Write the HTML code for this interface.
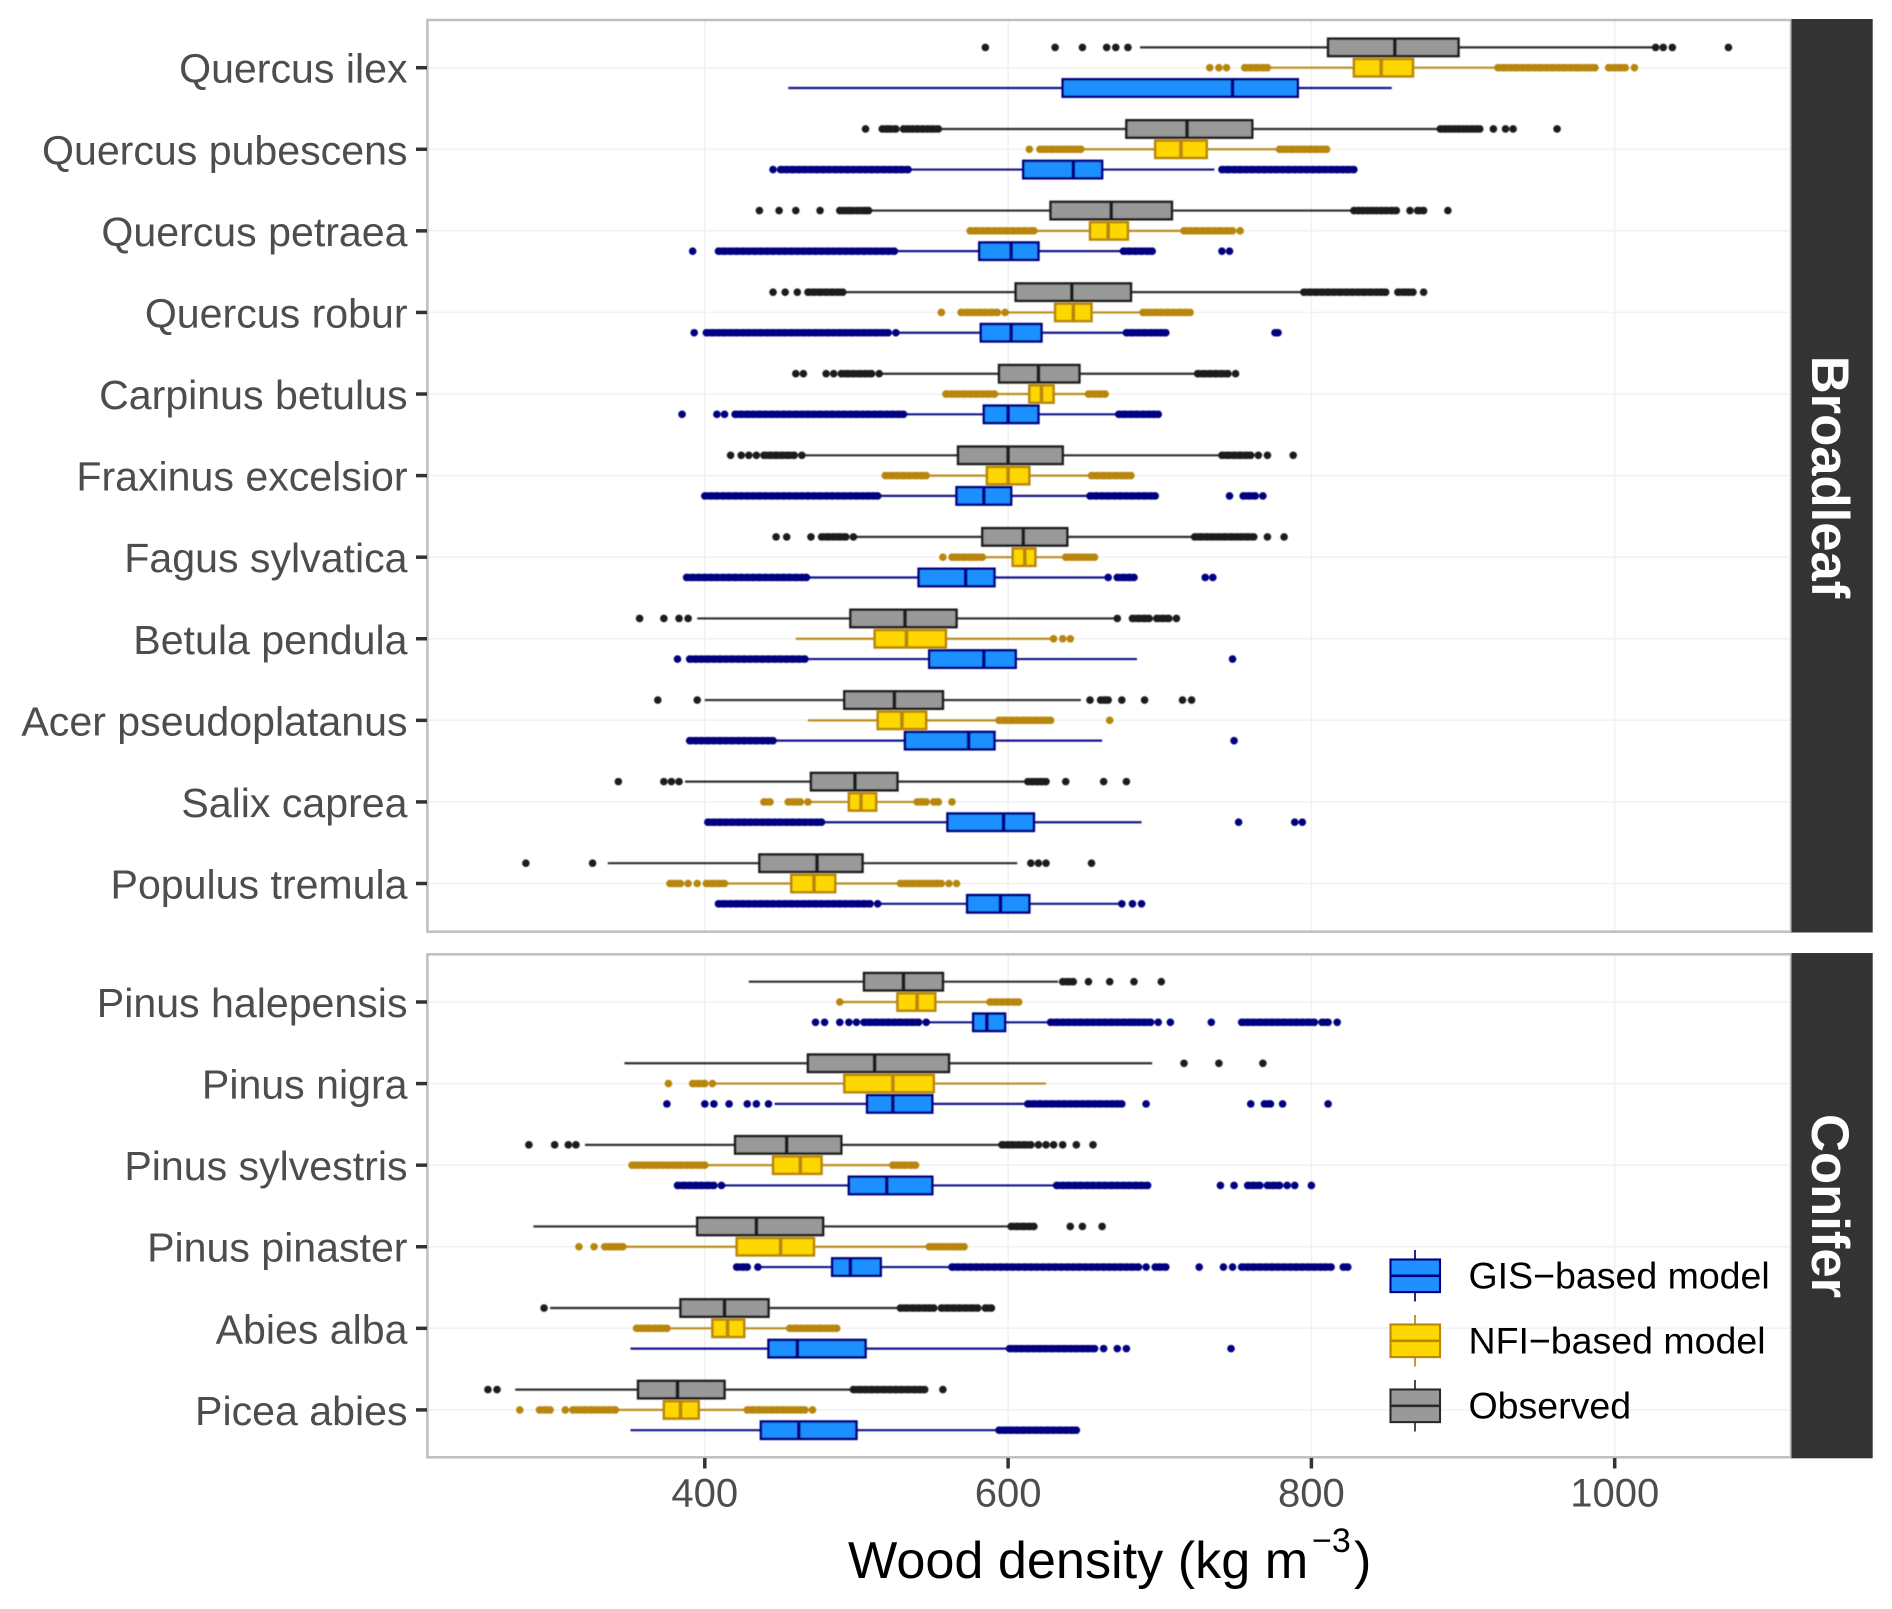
<!DOCTYPE html>
<html lang="en">
<head>
<meta charset="utf-8">
<title>Wood density boxplots</title>
<style>
html,body{margin:0;padding:0;background:#fff;}
svg{display:block;font-family:"Liberation Sans",Arial,sans-serif;}
</style>
</head>
<body>
<svg id="chart" xmlns="http://www.w3.org/2000/svg" width="1892" height="1609" viewBox="0 0 1892 1609">
  <defs>
    <filter id="soften" x="-2%" y="-2%" width="104%" height="104%"><feGaussianBlur stdDeviation="0.45"/></filter>
  </defs>
  <rect x="0" y="0" width="1892" height="1609" fill="#ffffff"/>
  <g id="grid"></g>
  <g id="marks" filter="url(#soften)"></g>
  <rect x="427.4" y="20" width="1363.6" height="911.7" fill="none" stroke="#bebebe" stroke-width="2.5"/>
  <rect x="427.4" y="954.3" width="1363.6" height="503" fill="none" stroke="#bebebe" stroke-width="2.5"/>
  <rect x="1791.5" y="19" width="81.2" height="913.5" fill="#333333"/>
  <rect x="1791.5" y="953" width="81.2" height="505.3" fill="#333333"/>
  <text transform="translate(1812,477) rotate(90)" text-anchor="middle" font-size="52.6" font-weight="bold" fill="#ffffff">Broadleaf</text>
  <text transform="translate(1812,1206) rotate(90)" text-anchor="middle" font-size="52.6" font-weight="bold" fill="#ffffff">Conifer</text>
  <g id="axes"></g>
  <text font-size="52.2" fill="#000000" x="848" y="1578">Wood density (kg m<tspan x="1312" y="1552" font-size="34">−3</tspan><tspan x="1354" y="1578">)</tspan></text>
  <g id="legend"></g>
</svg>
<script>
const species = ["Quercus ilex","Quercus pubescens","Quercus petraea","Quercus robur","Carpinus betulus","Fraxinus excelsior","Fagus sylvatica","Betula pendula","Acer pseudoplatanus","Salix caprea","Populus tremula","Pinus halepensis","Pinus nigra","Pinus sylvestris","Pinus pinaster","Abies alba","Picea abies"];
const speciesPanel = [0,0,0,0,0,0,0,0,0,0,0,1,1,1,1,1,1];
const xTickValues = [400,600,800,1000];
const xTickLabels = ["400","600","800","1000"];
const legendLabels = ["GIS−based model","NFI−based model","Observed"];

// each row: lower whisker, Q1, median, Q3, upper whisker
const obsStats = [[687,811,855,897,1025],[556,678,718,761,885],[509,628,668,708,828],[492,605,642,681,795],[515,594,620,647,725],[465,567,600,636,739],[499,583,610,639,723],[395,496,532,566,672],[400,492,525,557,648],[387,470,499,527,613],[336,436,474,504,606],[429,505,531,557,633],[347,468,512,561,695],[321,420,454,490,594],[287,395,434,478,602],[298,384,413,442,529],[275,356,382,413,498]];
const nfiStats = [[771,828,846,867,923],[649,697,714,731,779],[617,654,666,679,716],[598,631,643,655,689],[591,614,622,630,653],[546,586,600,614,655],[583,603,611,618,638],[460,512,533,559,628],[468,514,530,546,594],[468,495,503,513,540],[413,457,472,486,529],[491,527,540,552,588],[405,492,524,551,625],[400,445,463,477,524],[346,421,450,472,548],[375,405,415,426,456],[341,373,384,396,428]];
const gisStats = [[455,636,748,791,853],[535,610,643,662,736],[525,581,602,620,676],[526,582,602,622,678],[531,584,600,620,673],[514,566,584,602,654],[467,541,572,591,666],[466,548,584,605,685],[445,532,574,591,662],[477,560,597,617,688],[514,573,595,614,674],[547,577,586,598,628],[446,507,524,550,613],[412,495,520,550,632],[437,484,496,516,563],[351,442,461,506,601],[351,437,462,500,594]];

const obsOutliers = [
[585,631,649,665,671,679,1027,1032,1038,1075],
[506,517,520,522,526,531,534,537,540,544,547,550,554,885,888,891,894,897,900,903,906,909,911,920,928,933,962],
[436,449,460,476,489,492,495,497,501,504,506,508,828,831,834,837,840,843,846,849,853,856,865,870,874,890],
[445,453,461,468,472,476,480,484,488,491,795,799,803,807,811,815,819,823,827,831,835,839,843,846,849,857,861,864,867,874],
[460,465,480,485,490,494,498,502,506,510,515,725,729,733,737,741,745,750],
[417,424,429,434,439,443,447,451,455,459,464,741,745,749,753,757,760,765,771,788],
[447,454,470,477,481,485,489,493,498,723,727,731,735,739,743,747,751,754,758,762,771,782],
[357,373,383,389,672,682,686,690,693,698,702,706,711],
[369,395,654,661,664,666,675,690,715,721],
[343,373,378,383,613,616,619,622,625,638,663,678],
[282,326,615,620,625,655],
[636,640,643,653,667,683,701],
[716,739,768],
[284,301,310,315,596,600,603,607,611,615,620,625,630,636,645,656],
[602,606,610,614,617,641,649,662],
[294,529,533,537,541,545,548,551,556,560,564,568,572,576,580,585,589],
[257,263,498,502,506,510,514,518,522,526,530,534,538,542,545,557]
];
const nfiOutliers = [
[733,739,744,756,760,764,768,771,923,927,931,935,939,943,947,951,955,959,963,967,971,975,977,981,984,987,996,1000,1004,1007,1013],
[614,621,625,629,633,637,641,645,648,779,783,787,791,795,799,803,807,810],
[575,579,583,587,591,595,599,603,607,611,615,617,716,720,724,728,732,736,740,744,748,753],
[556,569,573,577,581,585,589,593,598,689,693,697,701,705,709,713,717,720],
[559,563,567,571,575,579,583,587,591,653,657,661,664],
[519,523,527,531,535,539,543,546,655,659,663,667,671,675,678,681],
[557,563,567,571,575,579,583,638,642,646,650,653,657],
[630,636,641],
[594,598,602,606,610,614,618,622,625,628,667],
[439,443,455,459,463,468,540,543,546,551,554,563],
[377,381,384,389,395,401,405,409,413,529,533,537,541,545,549,553,556,561,566],
[489,588,592,596,600,604,607],
[376,392,396,400,405],
[352,356,360,364,368,372,376,380,384,388,392,396,400,524,528,532,536,539],
[317,327,334,337,340,343,346,548,552,556,560,564,568,571],
[355,359,363,367,371,375,456,460,464,468,472,476,480,484,487],
[278,291,295,298,308,313,317,321,325,329,333,337,341,428,432,436,440,444,448,452,456,460,463,466,471]
];
const gisOutliers = [
[],
[445,450,454,458,462,466,470,474,478,482,486,490,494,498,502,506,510,514,518,522,526,530,534,741,745,749,753,757,761,765,769,773,777,781,785,789,793,797,801,805,809,813,817,821,824,828],
[392,409,413,417,421,425,429,433,437,441,445,449,453,457,461,465,469,473,477,481,485,489,493,497,501,505,509,513,517,521,525,676,680,684,688,692,695,741,746],
[393,401,405,409,413,417,421,425,429,433,437,441,445,449,453,457,461,465,469,473,477,481,485,489,493,497,501,505,509,513,517,521,526,678,682,686,690,694,698,701,704,776,778],
[385,408,413,420,424,428,432,436,440,444,448,452,456,460,464,468,472,476,480,484,488,492,496,500,504,508,512,516,520,524,528,531,673,677,681,685,689,693,696,699],
[400,404,408,412,416,420,424,428,432,436,440,444,448,452,456,460,464,468,472,476,480,484,488,492,496,500,504,508,511,514,654,658,662,666,670,674,678,682,686,690,694,697,746,755,759,763,768],
[388,392,396,400,404,408,412,416,420,424,428,432,436,440,444,448,452,456,460,464,467,666,672,676,680,683,730,735],
[382,390,394,398,402,406,410,414,418,422,426,430,434,438,442,446,450,454,458,462,466,748],
[390,394,398,402,406,410,414,418,422,426,430,434,438,442,445,749],
[402,406,410,414,418,422,426,430,434,438,442,446,450,454,458,462,466,470,474,477,752,789,794],
[409,413,417,421,425,429,433,437,441,445,449,453,457,461,465,469,473,477,481,485,489,493,497,501,505,509,514,675,682,688],
[473,479,489,495,500,505,509,513,517,521,525,529,533,537,541,546,628,632,636,640,644,648,652,656,660,664,668,672,676,680,683,686,690,694,699,707,734,754,758,762,766,770,774,778,782,786,790,794,798,802,807,811,817],
[375,400,406,416,428,434,442,613,617,621,625,629,633,637,641,645,649,653,657,661,665,669,672,675,691,760,769,773,781,811],
[382,386,390,394,398,402,406,411,632,636,640,644,648,652,656,660,664,668,672,676,680,684,688,692,740,749,758,762,766,771,775,779,784,789,800],
[421,425,428,435,563,567,571,575,579,583,587,591,595,599,603,607,611,615,619,623,627,631,635,639,643,647,651,655,659,663,667,670,674,678,682,686,691,697,700,704,726,742,748,754,758,762,766,770,774,778,782,786,790,794,798,802,806,809,813,821,824],
[601,605,609,613,617,621,625,629,633,637,641,645,649,653,657,663,672,678,747],
[594,598,602,606,610,614,618,622,626,630,634,638,642,645]
];

const SVG_NS = "http://www.w3.org/2000/svg";
const xScale = v => 704.8 + (v - 400) * 1.5165;
const panelFirstY = [67.7, 1002];
const bandStep = 81.58;
const dodge = 20.3;
const boxH = 17.4;
const overplotGap = 4.5;
function yScale(i) {
  const p = speciesPanel[i];
  const k = speciesPanel.slice(0, i).filter(q => q === p).length;
  return panelFirstY[p] + k * bandStep;
}
function make(tag, attrs, parent) {
  const el = document.createElementNS(SVG_NS, tag);
  for (const k in attrs) el.setAttribute(k, attrs[k]);
  parent.appendChild(el);
  return el;
}
const gridG = document.getElementById("grid");
const marksG = document.getElementById("marks");
const axesG = document.getElementById("axes");
const legendG = document.getElementById("legend");

// vertical gridlines, x ticks and labels
xTickValues.forEach((v, i) => {
  [[20, 931.7], [954.3, 1457.3]].forEach(range => {
    const gl = make("line", {x1: xScale(v), x2: xScale(v), y1: range[0], y2: range[1], stroke: "#f2f2f2", "stroke-width": 1.6}, gridG);
    
    
  });
  const tick = make("line", {x1: xScale(v), x2: xScale(v), y1: 1458, y2: 1468.5, stroke: "#333333", "stroke-width": 3.5}, axesG);
  
  
  const lab = make("text", {x: xScale(v), y: 1506.7, "text-anchor": "middle", "font-size": 40, fill: "#4d4d4d"}, axesG);
  lab.textContent = xTickLabels[i];
  
  
});

// species rows
species.forEach((name, i) => {
  const y = yScale(i);
  const gl = make("line", {x1: 427.4, x2: 1791, y1: y, y2: y, stroke: "#f2f2f2", "stroke-width": 1.6}, gridG);
  
  
  const tick = make("line", {x1: 416, x2: 427, y1: y, y2: y, stroke: "#333333", "stroke-width": 3.5}, axesG);
  
  
  const lab = make("text", {x: 407.5, y: y + 15, "text-anchor": "end", "font-size": 41.1, fill: "#4d4d4d"}, axesG);
  lab.textContent = name;
  
  
});

function drawSeries(stats, outliers, offset, fill, stroke, seriesName) {
  stats.forEach((row, i) => {
    const y = yScale(i) + offset;
    const g = make("g", {}, marksG);
    
    
    const sorted = outliers[i].slice().sort((a, b) => a - b);
    sorted.forEach((v, k) => {
      const c = make("circle", {cx: xScale(v), cy: y, r: 3.8, fill: stroke}, g);
      
      
      // overplotted neighbours merge into a solid run, as they do in the source plot
      if (k > 0 && v - sorted[k - 1] <= overplotGap) {
        const run = make("line", {x1: xScale(sorted[k - 1]), x2: xScale(v), y1: y, y2: y, stroke: stroke, "stroke-width": 7.2}, g);
        
        
      }
    });
    const w = make("line", {x1: xScale(row[0]), x2: xScale(row[4]), y1: y, y2: y, stroke: stroke, "stroke-width": 2.2, "stroke-opacity": 0.92}, g);
    
    
    const b = make("rect", {x: xScale(row[1]), y: y - boxH / 2, width: xScale(row[3]) - xScale(row[1]), height: boxH, fill: fill, stroke: stroke, "stroke-width": 2.5}, g);
    
    
    const m = make("line", {x1: xScale(row[2]), x2: xScale(row[2]), y1: y - boxH / 2, y2: y + boxH / 2, stroke: stroke, "stroke-width": 3.6}, g);
    
    
  });
}
drawSeries(obsStats, obsOutliers, -dodge, "#999999", "#1f1f1f", "observed");
drawSeries(nfiStats, nfiOutliers, 0, "#ffd700", "#b8860b", "nfi");
drawSeries(gisStats, gisOutliers, dodge, "#1e90ff", "#000080", "gis");

// legend
const legendFill = ["#1e90ff", "#ffd700", "#999999"];
const legendStroke = ["#000080", "#b8860b", "#2b2b2b"];
legendLabels.forEach((text, i) => {
  const top = 1259.5 + i * 65;
  const g = make("g", {}, legendG);
  
  
  const w = make("line", {x1: 1415, x2: 1415, y1: top - 9.5, y2: top + 42, stroke: legendStroke[i], "stroke-width": 2, "stroke-opacity": 0.85}, g);
  
  
  const b = make("rect", {x: 1390.5, y: top, width: 49.5, height: 32.6, fill: legendFill[i], stroke: legendStroke[i], "stroke-width": 2.1}, g);
  
  
  const m = make("line", {x1: 1390.5, x2: 1440, y1: top + 16.3, y2: top + 16.3, stroke: legendStroke[i], "stroke-width": 2.6}, g);
  
  
  const t = make("text", {x: 1468.5, y: 1288.5 + i * 65, "font-size": 37.5, fill: "#000000"}, g);
  t.textContent = text;
  
  
});
</script>
</body>
</html>
